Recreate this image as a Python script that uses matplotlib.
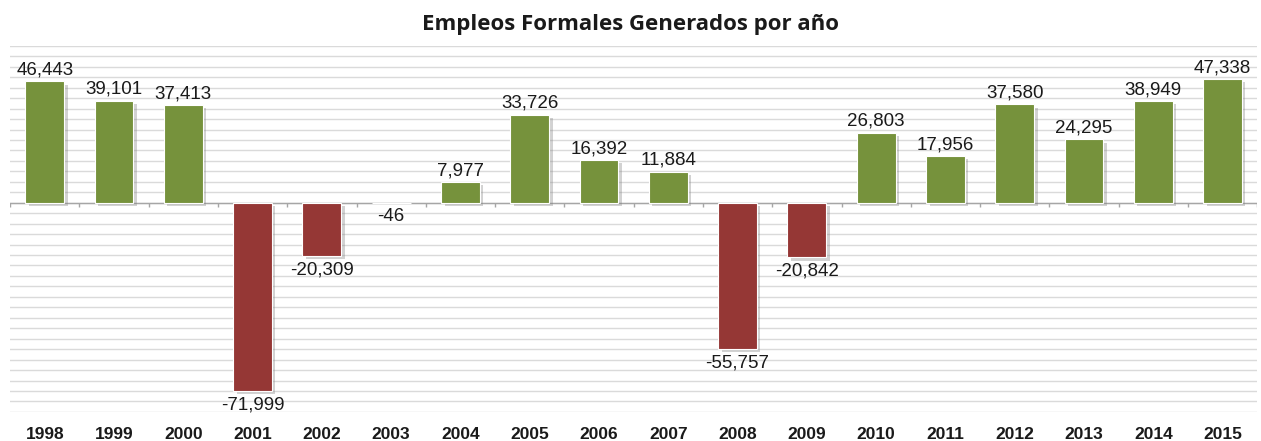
import numpy as np
import matplotlib.pyplot as plt
import matplotlib.patheffects as pe

plt.rcParams['font.family'] = ['Liberation Sans', 'DejaVu Sans']

years = ['1998', '1999', '2000', '2001', '2002', '2003', '2004', '2005', '2006',
         '2007', '2008', '2009', '2010', '2011', '2012', '2013', '2014', '2015']
empleos = [46443, 39101, 37413, -71999, -20309, -46, 7977, 33726, 16392,
           11884, -55757, -20842, 26803, 17956, 37580, 24295, 38949, 47338]

GREEN = '#76923c'
RED = '#953735'

fig = plt.figure(figsize=(12.61, 4.41), dpi=100)
ax = fig.add_axes([0.008, 0.066, 0.989, 0.830])

x = np.arange(len(years))
colors = [GREEN if v >= 0 else RED for v in empleos]
shadow = [pe.SimplePatchShadow(offset=(2.5, -2.5), shadow_rgbFace='#808080', alpha=0.35),
          pe.Normal()]
bars = ax.bar(x, empleos, width=0.56, color=colors, edgecolor='white',
              linewidth=0.8, zorder=3)
for b in bars:
    b.set_path_effects(shadow)

# etiquetas de valores
for xi, v in zip(x, empleos):
    if v >= 0:
        ax.annotate(f'{v:,}', (xi, v), xytext=(0, 2), textcoords='offset points',
                    ha='center', va='bottom', fontsize=13.5, color='#1a1a1a', zorder=4)
    else:
        ax.annotate(f'{v:,}', (xi, v), xytext=(0, -4), textcoords='offset points',
                    ha='center', va='top', fontsize=13.5, color='#1a1a1a', zorder=4)

ax.set_xlim(-0.5, len(years) - 0.5)
ax.set_ylim(-80000, 60000)
ax.set_yticks(np.arange(-80000, 60001, 4000))
ax.yaxis.grid(True, color='#dadada', linewidth=1.0, zorder=0)
ax.set_axisbelow(True)
ax.tick_params(axis='y', left=False, labelleft=False)

# eje en cero con marcas entre categorias
ax.axhline(0, color='#a6a6a6', linewidth=1.0, zorder=2)
ax.vlines(np.arange(-0.5, len(years)), -1500, 0, color='#a6a6a6', linewidth=1.0, zorder=2)

ax.set_xticks(x)
ax.set_xticklabels(years, fontsize=12.5, fontweight='bold', color='#1a1a1a')
ax.tick_params(axis='x', length=0, pad=11)

for s in ax.spines.values():
    s.set_visible(False)

fig.text(0.5, 0.945, 'Empleos Formales Generados por año', ha='center', va='center',
         fontsize=16, fontweight='bold', family=['Open Sans', 'DejaVu Sans'], color='#1a1a1a')

plt.savefig('out.png', dpi=100)
